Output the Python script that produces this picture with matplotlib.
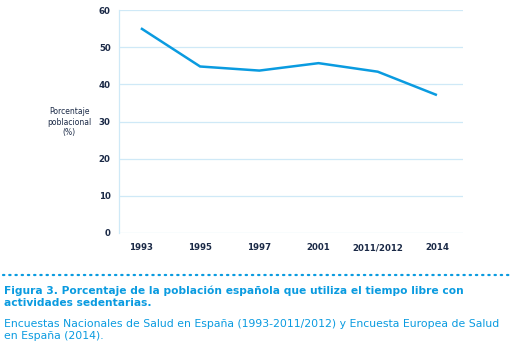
import matplotlib
matplotlib.use("Agg")
import matplotlib.pyplot as plt
from matplotlib.lines import Line2D

plt.rcParams['font.family'] = ['DejaVu Sans']

years = ['1993', '1995', '1997', '2001', '2011/2012', '2014']
pct = [55.1, 44.8, 43.7, 45.7, 43.4, 37.1]
yticks = [0, 10, 20, 30, 40, 50, 60]

navy = '#1b2a47'
blue = '#0a9be0'
grid = '#cfe9f7'

W, H = 516, 348
fig = plt.figure(figsize=(W / 100, H / 100), dpi=100)
ax = fig.add_axes([119 / W, 1 - 233 / H, (463 - 119) / W, (233 - 10) / H])

x = list(range(len(years)))
ax.plot(x, pct, color=blue, lw=1.8, solid_capstyle='butt', solid_joinstyle='miter', zorder=3)

ax.set_xlim(-0.37, 5.44)
ax.set_ylim(0, 60)
ax.set_yticks(yticks)
ax.set_xticks(x)
ax.set_xticklabels(years)
ax.grid(axis='y', color=grid, lw=0.9)
ax.set_axisbelow(True)
for side in ['top', 'right', 'bottom']:
    ax.spines[side].set_visible(False)
ax.spines['left'].set_color(grid)
ax.spines['left'].set_linewidth(0.9)
ax.tick_params(length=0, colors=navy, labelsize=6.2)
ax.tick_params(axis='y', pad=6)
ax.tick_params(axis='x', pad=12.5)
for lab in ax.get_xticklabels() + ax.get_yticklabels():
    lab.set_fontweight('bold')
# keep the year labels on one baseline ("/" sits taller than digits)
for lab in ax.get_xticklabels():
    lab.set_va('baseline')

fig.text(69 / W, 1 - 122 / H, 'Porcentaje\npoblacional\n(%)', ha='center', va='center',
         fontsize=5.5, color=navy, linespacing=1.2)

# dotted separator above the caption
fig.add_artist(Line2D([3 / W, 509 / W], [1 - 275 / H] * 2, color=blue, lw=1.6,
                      linestyle=(0, (0.6, 2.2)), dash_capstyle='round'))

fig.text(4 / W, 1 - 296.5 / H,
         'Figura 3. Porcentaje de la población española que utiliza el tiempo libre con\nactividades sedentarias.',
         ha='left', va='center', fontsize=7.65, fontweight='bold', color=blue, linespacing=1.2)
fig.text(4 / W, 1 - 330 / H,
         'Encuestas Nacionales de Salud en España (1993-2011/2012) y Encuesta Europea de Salud\nen España (2014).',
         ha='left', va='center', fontsize=7.85, color=blue, linespacing=1.35)

fig.savefig('out.png', dpi=100)
